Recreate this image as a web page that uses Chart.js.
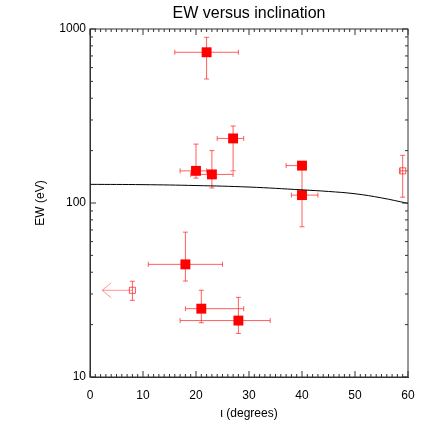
<!DOCTYPE html>
<html>
<head>
<meta charset="utf-8">
<script src="https://cdn.jsdelivr.net/npm/chart.js@4"></script>
<style>
  body { margin: 0; background: #fff; }
  canvas { display: block; }
</style>
</head>
<body>
<canvas id="ewChart" width="436" height="436"></canvas>
<script>
// detections (filled squares)
const incl    = [22, 20, 23, 27, 40, 40, 18, 21, 28];
const ew      = [735, 153, 146, 235, 164, 111, 44.4, 24.7, 21.1];
const inclLo  = [16, 17, 19, 24, 37, 38, 11, 18, 17];
const inclHi  = [28, 22, 27, 29, 40, 43, 25, 29, 34];
const ewLo    = [516, 139, 122, 153, 160, 73, 35.6, 20.5, 17.8];
const ewHi    = [896, 218, 200, 277, 170, 164, 68, 31.5, 28.7];

// open squares
const openIncl   = [59, 8];
const openEw     = [153, 31.5];
const openInclLo = [58.5, 8];
const openInclHi = [61, 8];
const openEwLo   = [108, 27.6];
const openEwHi   = [188, 35.5];

// upper limit on inclination (arrow pointing left)
const arrowIncl = [8, 2.3];
const arrowEw = 31.5;

// model curve
const curveIncl = [0, 10, 20, 30, 40, 45, 50, 55, 60];
const curveEw   = [128, 127.5, 126, 123.5, 119, 116.5, 113, 107, 99.5];

const xTickLabels = [0, 10, 20, 30, 40, 50, 60];
const yTickLabels = [10, 100, 1000];
const chartTitle = 'EW versus inclination';

const toPoints = (xs, ys) => xs.map((x, i) => ({ x: x, y: ys[i] }));

const errColor = 'rgba(255, 40, 40, 0.75)';
const fontFamily = '"Liberation Sans", Arial, sans-serif';

// error bars + arrow, drawn behind the markers
const errorBars = {
  id: 'errorBars',
  beforeDatasetsDraw(chart) {
    const { ctx, chartArea, scales: { x, y } } = chart;
    ctx.save();
    ctx.beginPath();
    ctx.rect(chartArea.left, chartArea.top, chartArea.width, chartArea.height);
    ctx.clip();
    ctx.strokeStyle = errColor;
    ctx.lineWidth = 1;
    const cap = 2.5;
    const drawSet = (xs, ys, xl, xh, yl, yh) => {
      xs.forEach((v, i) => {
        const px = x.getPixelForValue(v), py = y.getPixelForValue(ys[i]);
        const x1 = x.getPixelForValue(xl[i]), x2 = x.getPixelForValue(xh[i]);
        const y1 = y.getPixelForValue(yl[i]), y2 = y.getPixelForValue(yh[i]);
        ctx.beginPath();
        if (xh[i] > xl[i]) {
          ctx.moveTo(x1, py); ctx.lineTo(x2, py);
          ctx.moveTo(x1, py - cap); ctx.lineTo(x1, py + cap);
          ctx.moveTo(x2, py - cap); ctx.lineTo(x2, py + cap);
        }
        ctx.moveTo(px, y1); ctx.lineTo(px, y2);
        ctx.moveTo(px - cap, y1); ctx.lineTo(px + cap, y1);
        ctx.moveTo(px - cap, y2); ctx.lineTo(px + cap, y2);
        ctx.stroke();
      });
    };
    drawSet(incl, ew, inclLo, inclHi, ewLo, ewHi);
    drawSet(openIncl, openEw, openInclLo, openInclHi, openEwLo, openEwHi);

    // arrow
    const ax1 = x.getPixelForValue(arrowIncl[0]);
    const ax2 = x.getPixelForValue(arrowIncl[1]);
    const ay = y.getPixelForValue(arrowEw);
    ctx.strokeStyle = 'rgba(255, 60, 60, 0.55)';
    ctx.beginPath();
    ctx.moveTo(ax1, ay); ctx.lineTo(ax2, ay);
    ctx.moveTo(ax2 + 9, ay - 7.5); ctx.lineTo(ax2, ay); ctx.lineTo(ax2 + 9, ay + 7.5);
    ctx.stroke();
    ctx.restore();
  }
};

// frame, inward ticks on all four sides, title centred on the plot
const frameTicks = {
  id: 'frameTicks',
  afterDraw(chart) {
    const { ctx, chartArea: a, scales: { x, y } } = chart;
    ctx.save();
    ctx.strokeStyle = '#333';
    ctx.lineWidth = 1;
    ctx.strokeRect(a.left, a.top, a.width, a.height);
    ctx.beginPath();
    for (let i = 0; i <= 60; i++) {
      const px = x.getPixelForValue(i);
      const len = i % 10 === 0 ? 6 : 3;
      ctx.moveTo(px, a.bottom); ctx.lineTo(px, a.bottom - len);
      ctx.moveTo(px, a.top); ctx.lineTo(px, a.top + len);
    }
    for (let d = 10; d <= 1000; d *= 10) {
      for (let m = 1; m <= 9; m++) {
        const v = d * m;
        if (v > 1000) break;
        const py = y.getPixelForValue(v);
        const len = m === 1 ? 6 : 3;
        ctx.moveTo(a.left, py); ctx.lineTo(a.left + len, py);
        ctx.moveTo(a.right, py); ctx.lineTo(a.right - len, py);
      }
    }
    ctx.stroke();

    ctx.fillStyle = '#000';
    ctx.font = '16px ' + fontFamily;
    ctx.textAlign = 'center';
    ctx.textBaseline = 'middle';
    ctx.fillText(chartTitle, (a.left + a.right) / 2, 13.5);
    ctx.restore();
  }
};

const font = { family: fontFamily, size: 12 };

new Chart(document.getElementById('ewChart').getContext('2d'), {
  type: 'scatter',
  data: {
    datasets: [
      {
        type: 'line',
        data: toPoints(curveIncl, curveEw),
        borderColor: '#000',
        borderWidth: 1,
        pointRadius: 0,
        tension: 0.4,
        fill: false
      },
      {
        data: toPoints(incl, ew),
        pointStyle: 'rect',
        pointRadius: 7,
        backgroundColor: '#ff0000',
        borderColor: '#ff0000',
        borderWidth: 0
      },
      {
        data: toPoints(openIncl, openEw),
        pointStyle: 'rect',
        pointRadius: 4.3,
        backgroundColor: 'rgba(255,255,255,0)',
        borderColor: 'rgba(255, 40, 40, 0.8)',
        borderWidth: 1
      }
    ]
  },
  options: {
    responsive: false,
    animation: false,
    layout: { padding: { left: 0, right: 28, top: 29, bottom: 0 } },
    plugins: {
      legend: { display: false },
      tooltip: { enabled: false },
      title: { display: false }
    },
    scales: {
      x: {
        type: 'linear',
        min: 0,
        max: 60,
        afterFit: (s) => { s.height = 59; },
        afterBuildTicks: (s) => { s.ticks = xTickLabels.map(v => ({ value: v })); },
        grid: { display: false, drawTicks: false },
        border: { display: true, color: '#333' },
        ticks: { color: '#000', font: font, padding: 11, maxRotation: 0 },
        title: {
          display: true,
          text: 'ι (degrees)',
          color: '#000',
          font: font,
          padding: { top: 0, bottom: 15 }
        }
      },
      y: {
        type: 'logarithmic',
        min: 10,
        max: 1000,
        afterFit: (s) => { s.width = 90; },
        afterBuildTicks: (s) => { s.ticks = yTickLabels.map(v => ({ value: v })); },
        grid: { display: false, drawTicks: false },
        border: { display: true, color: '#333' },
        ticks: {
          color: '#000',
          font: font,
          padding: 4,
          autoSkip: false,
          callback: (v) => String(v)
        },
        title: {
          display: true,
          text: 'EW (eV)',
          color: '#000',
          font: font,
          padding: { top: 33, bottom: 0 }
        }
      }
    }
  },
  plugins: [errorBars, frameTicks]
});
</script>
</body>
</html>
